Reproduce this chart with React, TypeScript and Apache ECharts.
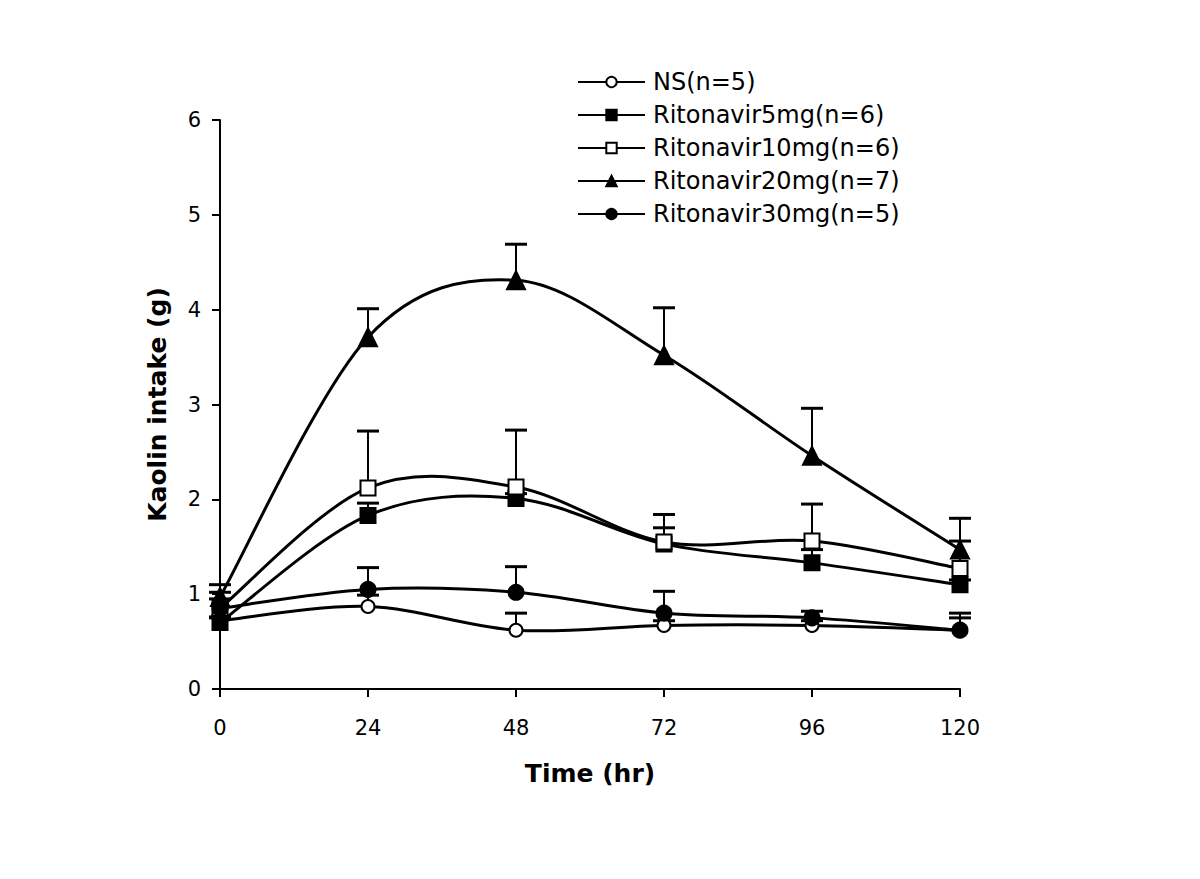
import React, { useEffect, useRef } from "react";
import * as echarts from "echarts";

const timeHours = [0, 24, 48, 72, 96, 120];
const xTicks = [0, 24, 48, 72, 96, 120];

const nsMean = [0.72, 0.87, 0.62, 0.67, 0.67, 0.62];
const nsSem = [0.04, 0.12, 0.18, 0.05, 0.05, 0.13];
const r5Mean = [0.7, 1.83, 2.01, 1.53, 1.33, 1.1];
const r5Sem = [0.05, 0.13, 0.05, 0.17, 0.14, 0.05];
const r10Mean = [0.85, 2.12, 2.13, 1.55, 1.56, 1.27];
const r10Sem = [0.17, 0.6, 0.6, 0.29, 0.39, 0.29];
const r20Mean = [0.97, 3.71, 4.31, 3.52, 2.46, 1.47];
const r20Sem = [0.13, 0.3, 0.38, 0.5, 0.5, 0.33];
const r30Mean = [0.85, 1.05, 1.02, 0.8, 0.75, 0.62];
const r30Sem = [0.1, 0.23, 0.27, 0.23, 0.07, 0.18];

const seriesNames = [
  "NS(n=5)",
  "Ritonavir5mg(n=6)",
  "Ritonavir10mg(n=6)",
  "Ritonavir20mg(n=7)",
  "Ritonavir30mg(n=5)",
];

export default function App() {
  const ref = useRef<HTMLDivElement>(null);
  useEffect(() => {
    if (!ref.current) return;
    const chart = echarts.init(ref.current, null, { renderer: "svg" });
    const font = "'DejaVu Sans', 'Open Sans', sans-serif";

    const groups = [
      { name: seriesNames[0], mean: nsMean, sem: nsSem, symbol: "circle", size: 13, fill: "#fff" },
      { name: seriesNames[1], mean: r5Mean, sem: r5Sem, symbol: "rect", size: 15, fill: "#000" },
      { name: seriesNames[2], mean: r10Mean, sem: r10Sem, symbol: "rect", size: 15, fill: "#fff" },
      { name: seriesNames[3], mean: r20Mean, sem: r20Sem, symbol: "triangle", size: 18, fill: "#000" },
      { name: seriesNames[4], mean: r30Mean, sem: r30Sem, symbol: "circle", size: 15, fill: "#000" },
    ];

    const errSeries = groups.map((g) => ({
      type: "custom",
      name: g.name + "_err",
      z: 1,
      silent: true,
      data: timeHours.map((t, i) => [t, g.mean[i], g.mean[i] + g.sem[i]]),
      renderItem: (params: any, api: any) => {
        const p0 = api.coord([api.value(0), api.value(1)]);
        const p1 = api.coord([api.value(0), api.value(2)]);
        const half = 11;
        return {
          type: "group",
          children: [
            {
              type: "line",
              shape: { x1: p0[0], y1: p0[1], x2: p1[0], y2: p1[1] },
              style: { stroke: "#000", lineWidth: 2 },
            },
            {
              type: "line",
              shape: { x1: p1[0] - half, y1: p1[1], x2: p1[0] + half, y2: p1[1] },
              style: { stroke: "#000", lineWidth: 3 },
            },
          ],
        };
      },
    }));

    // Catmull-Rom style spline through the points, drawn segment by segment
    const curveSeries = groups.map((g) => ({
      type: "custom",
      name: g.name + "_curve",
      z: 2,
      silent: true,
      data: timeHours.map((t, i) => [t, g.mean[i]]),
      renderItem: (params: any, api: any) => {
        const i = params.dataIndex;
        const n = timeHours.length;
        if (i >= n - 1) return { type: "group", children: [] };
        const P = (j: number) => {
          const k = Math.max(0, Math.min(n - 1, j));
          return api.coord([timeHours[k], g.mean[k]]);
        };
        const pm = P(i - 1), p0 = P(i), p1 = P(i + 1), p2 = P(i + 2);
        const cp1x = p0[0] + (p1[0] - pm[0]) / 6;
        const cp1y = p0[1] + (p1[1] - pm[1]) / 6;
        const cp2x = p1[0] - (p2[0] - p0[0]) / 6;
        const cp2y = p1[1] - (p2[1] - p0[1]) / 6;
        return {
          type: "bezierCurve",
          shape: { x1: p0[0], y1: p0[1], x2: p1[0], y2: p1[1], cpx1: cp1x, cpy1: cp1y, cpx2: cp2x, cpy2: cp2y },
          style: { stroke: "#000", lineWidth: 3, fill: "none" },
        };
      },
    }));

    const markerSeries = groups.map((g) => ({
      type: "line",
      name: g.name,
      z: 3,
      data: timeHours.map((t, i) => [t, g.mean[i]]),
      symbol: g.symbol,
      symbolSize: g.size,
      showAllSymbol: true,
      lineStyle: { color: "#000", width: 0, opacity: 0 },
      itemStyle: { color: g.fill, borderColor: "#000", borderWidth: 2 },
      emphasis: { disabled: true },
    }));

    chart.setOption({
      animation: false,
      backgroundColor: "#fff",
      grid: { left: 212, right: 232, top: 112, bottom: 182 },
      legend: {
        data: seriesNames,
        orient: "vertical",
        left: 564,
        top: 56,
        itemWidth: 67,
        itemHeight: 13,
        itemGap: 7,
        selectedMode: false,
        lineStyle: { color: "#000", width: 2, opacity: 1 },
        textStyle: { fontFamily: font, fontSize: 24, color: "#000", padding: [0, 0, 0, 3], lineHeight: 26 },
      },
      xAxis: {
        type: "value",
        min: 0,
        max: 120,
        interval: 24,
        name: "Time (hr)",
        nameLocation: "middle",
        nameGap: 72,
        nameTextStyle: { fontFamily: font, fontSize: 25, fontWeight: "bold", color: "#000" },
        axisLine: { onZero: false, lineStyle: { color: "#000", width: 2 } },
        axisTick: { show: true, length: 8, inside: false, lineStyle: { color: "#000", width: 2 } },
        axisLabel: { fontFamily: font, fontSize: 21, color: "#000", margin: 28, customValues: xTicks } as any,
        splitLine: { show: false },
      },
      yAxis: {
        type: "value",
        min: 0,
        max: 6,
        interval: 1,
        name: "Kaolin intake (g)",
        nameLocation: "middle",
        nameGap: 50,
        nameTextStyle: { fontFamily: font, fontSize: 25, fontWeight: "bold", color: "#000" },
        axisLine: { show: true, lineStyle: { color: "#000", width: 2 } },
        axisTick: { show: true, length: 8, inside: false, lineStyle: { color: "#000", width: 2 } },
        axisLabel: { fontFamily: font, fontSize: 21, color: "#000", margin: 19 },
        splitLine: { show: false },
      },
      series: [...errSeries, ...curveSeries, ...markerSeries],
    });
    return () => chart.dispose();
  }, []);
  return <div ref={ref} style={{ width: 1184, height: 863 }} />;
}
